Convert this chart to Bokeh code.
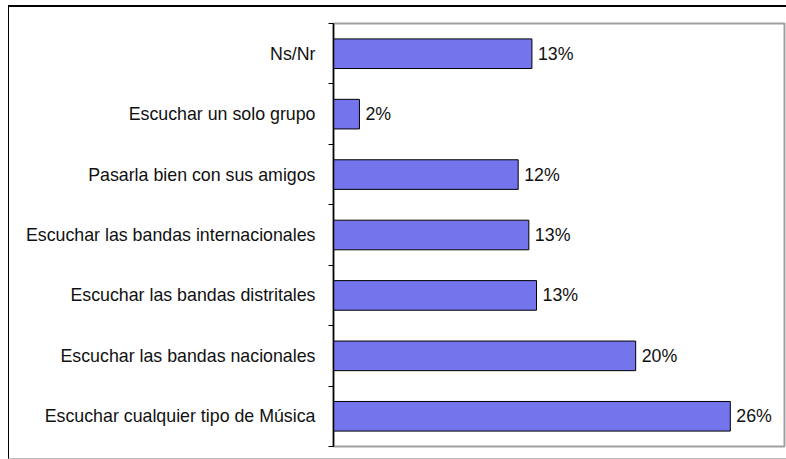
from bokeh.plotting import figure
from bokeh.models import FixedTicker, ColumnDataSource
from bokeh.core.properties import value
from bokeh.embed import file_html
from bokeh.resources import INLINE

categories = [
    "Escuchar cualquier tipo de Música",
    "Escuchar las bandas nacionales",
    "Escuchar las bandas distritales",
    "Escuchar las bandas internacionales",
    "Pasarla bien con sus amigos",
    "Escuchar un solo grupo",
    "Ns/Nr",
]
values = [26.0, 19.8, 13.3, 12.8, 12.1, 1.7, 13.0]
labels = ["26%", "20%", "13%", "13%", "12%", "2%", "13%"]

n = len(categories)
ypos = [i + 0.5 for i in range(n)]

src = ColumnDataSource(dict(y=ypos, v=values, lab=labels))

p = figure(width=778, height=454, output_backend="svg", toolbar_location=None,
           x_range=(0, 29.55), y_range=(0, n),
           min_border_left=324, min_border_right=3, min_border_top=16,
           min_border_bottom=15)
p.styles = {"border-top": "2px solid #000", "border-left": "1px solid #000",
            "border-bottom": "1px solid #bbb", "box-sizing": "border-box",
            "margin-left": "8px", "margin-top": "5px"}

p.hbar(y="y", right="v", left=0, height=0.49, source=src,
       fill_color="#7474EC", line_color="#000000", line_width=1)
p.text(x="v", y="y", text="lab", source=src, x_offset=6,
       text_baseline="middle", text_align="left",
       text_font=value("Liberation Sans"), text_font_size="17.8px", text_color="#111")

p.xaxis.visible = False
p.xgrid.visible = False
p.ygrid.visible = False

ya = p.yaxis[0]
ya.ticker = FixedTicker(ticks=ypos, minor_ticks=list(range(n + 1)))
ya.major_label_overrides = {y: c for y, c in zip(ypos, categories)}
ya.major_tick_out = 0
ya.major_tick_in = 0
ya.minor_tick_out = 5
ya.minor_tick_in = 0
ya.minor_tick_line_color = "#000"
ya.axis_line_color = "#000"
ya.axis_line_width = 1.5
ya.major_label_standoff = 13
ya.major_label_text_font = "Liberation Sans"
ya.major_label_text_font_size = "17.8px"
ya.major_label_text_color = "#111"

p.outline_line_color = "#a0a0a0"
p.outline_line_width = 2

open("out.html", "w").write(file_html(p, INLINE))
